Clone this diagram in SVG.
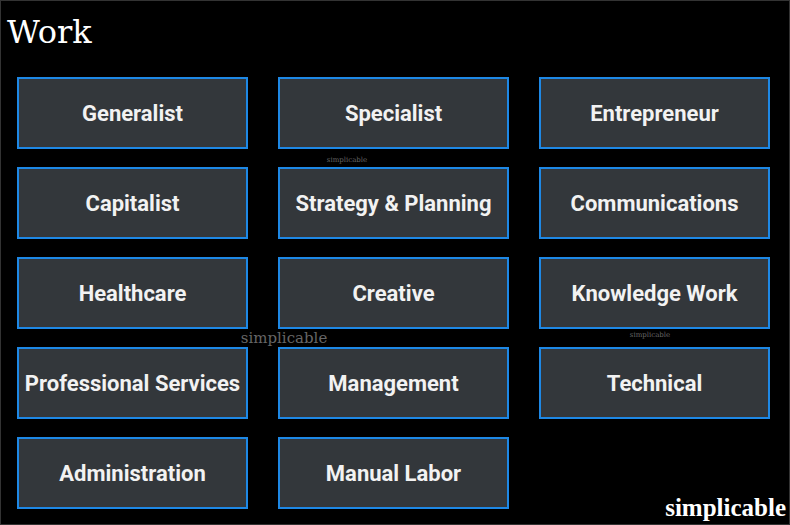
<svg xmlns="http://www.w3.org/2000/svg" width="790" height="525" viewBox="0 0 790 525">
<style>
.b rect{fill:#33373b;stroke:#1e88e5;stroke-width:2}
.b text{font-family:Roboto,"Liberation Sans",sans-serif;font-weight:bold;font-size:22px;fill:#f2f2f2;text-anchor:middle}
.wm{font-family:"DejaVu Serif","Liberation Serif",serif;text-anchor:middle}
</style>
<rect x="0" y="0" width="790" height="525" fill="#000"/>
<rect x="0.5" y="0.5" width="789" height="524" fill="none" stroke="#333" stroke-width="1"/>
<text x="7" y="43" font-family="'DejaVu Serif','Liberation Serif',serif" font-size="32" fill="#fff">Work</text>
<g class="b">
<g id="n1"><rect x="18" y="78" width="229" height="70"/><text x="132.5" y="121">Generalist</text></g>
<g id="n2"><rect x="279" y="78" width="229" height="70"/><text x="393.5" y="121">Specialist</text></g>
<g id="n3"><rect x="540" y="78" width="229" height="70"/><text x="654.5" y="121">Entrepreneur</text></g>
<g id="n4"><rect x="18" y="168" width="229" height="70"/><text x="132.5" y="211">Capitalist</text></g>
<g id="n5"><rect x="279" y="168" width="229" height="70"/><text x="393.5" y="211">Strategy &amp; Planning</text></g>
<g id="n6"><rect x="540" y="168" width="229" height="70"/><text x="654.5" y="211">Communications</text></g>
<g id="n7"><rect x="18" y="258" width="229" height="70"/><text x="132.5" y="301">Healthcare</text></g>
<g id="n8"><rect x="279" y="258" width="229" height="70"/><text x="393.5" y="301">Creative</text></g>
<g id="n9"><rect x="540" y="258" width="229" height="70"/><text x="654.5" y="301">Knowledge Work</text></g>
<g id="n10"><rect x="18" y="348" width="229" height="70"/><text x="132.5" y="391">Professional Services</text></g>
<g id="n11"><rect x="279" y="348" width="229" height="70"/><text x="393.5" y="391">Management</text></g>
<g id="n12"><rect x="540" y="348" width="229" height="70"/><text x="654.5" y="391">Technical</text></g>
<g id="n13"><rect x="18" y="438" width="229" height="70"/><text x="132.5" y="481">Administration</text></g>
<g id="n14"><rect x="279" y="438" width="229" height="70"/><text x="393.5" y="481">Manual Labor</text></g>
</g>
<g id="connectors"></g>
<text class="wm" x="347" y="162" font-size="7" fill="#666">simplicable</text>
<text class="wm" x="284" y="343" font-size="15" fill="#666">simplicable</text>
<text class="wm" x="650" y="337" font-size="7" fill="#666">simplicable</text>
<text x="786" y="516" font-family="'Liberation Serif',serif" font-size="25" font-weight="bold" fill="#fff" text-anchor="end">simplicable</text>
</svg>
